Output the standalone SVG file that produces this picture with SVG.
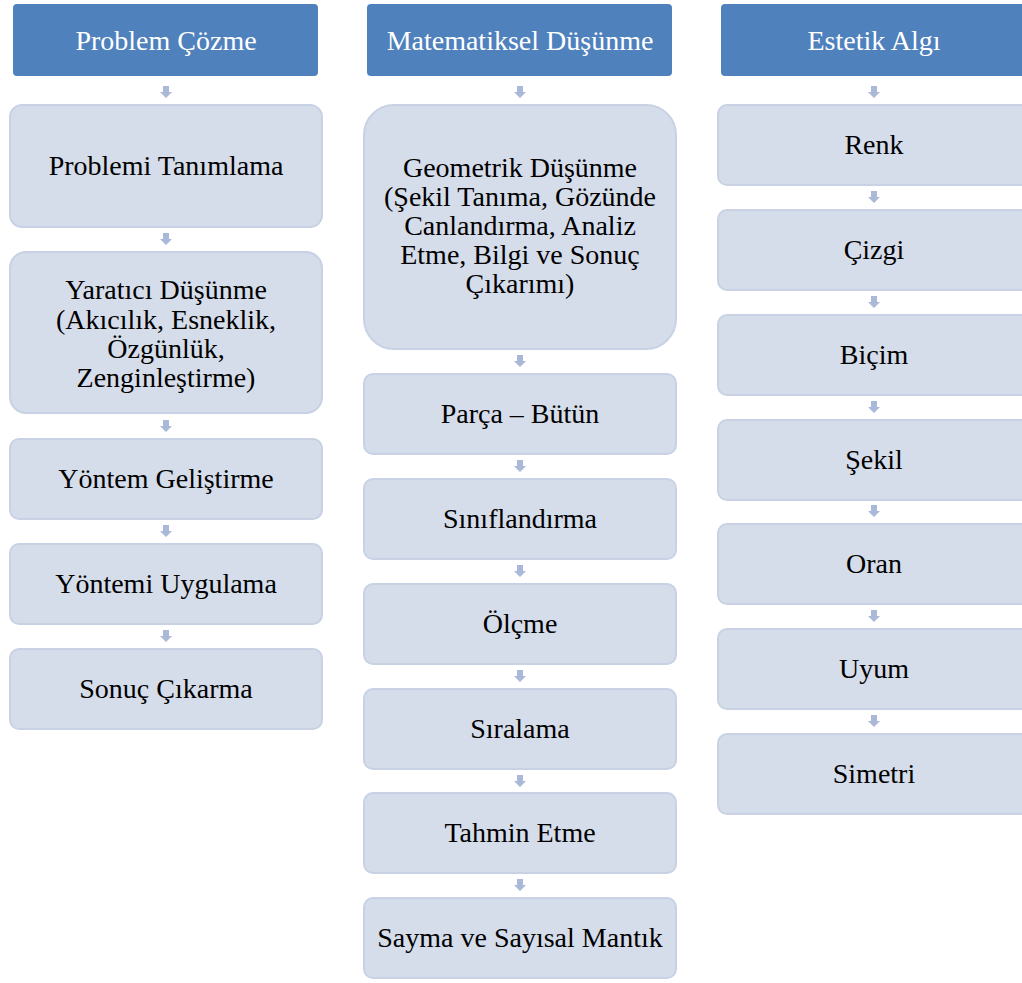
<svg xmlns="http://www.w3.org/2000/svg" width="1022" height="983" viewBox="0 0 1022 983">
<style>
.hdr{fill:#4f81bd;}
.bx{fill:#d5dcea;stroke:#c9d2e4;stroke-width:2;}
.ht{font-family:"Liberation Serif",serif;font-size:28px;fill:#ffffff;text-anchor:middle;}
.t{font-family:"Liberation Serif",serif;font-size:28px;fill:#000000;text-anchor:middle;}
.ar{fill:#a9b9d7;}
</style>
<defs>
<path id="arr" d="M-3,0 H3 V6 H6 L0,12 L-6,6 H-3 Z" class="ar"/>
</defs>
<rect width="1022" height="983" fill="#ffffff"/>
<g id="connectors">
<use href="#arr" x="166" y="86"/>
<use href="#arr" x="166" y="233"/>
<use href="#arr" x="166" y="420"/>
<use href="#arr" x="166" y="525"/>
<use href="#arr" x="166" y="630"/>
<use href="#arr" x="520" y="86"/>
<use href="#arr" x="520" y="355"/>
<use href="#arr" x="520" y="460"/>
<use href="#arr" x="520" y="565"/>
<use href="#arr" x="520" y="670"/>
<use href="#arr" x="520" y="775"/>
<use href="#arr" x="520" y="879"/>
<use href="#arr" x="874" y="86"/>
<use href="#arr" x="874" y="191"/>
<use href="#arr" x="874" y="296"/>
<use href="#arr" x="874" y="401"/>
<use href="#arr" x="874" y="505"/>
<use href="#arr" x="874" y="610"/>
<use href="#arr" x="874" y="715"/>
</g>
<g id="h1"><rect class="hdr" x="13" y="4" width="305" height="72" rx="4"/><text class="ht" x="166" y="50">Problem Çözme</text></g>
<g id="h2"><rect class="hdr" x="367" y="4" width="305" height="72" rx="4"/><text class="ht" x="520" y="50">Matematiksel Düşünme</text></g>
<g id="h3"><rect class="hdr" x="721" y="4" width="310" height="72" rx="4"/><text class="ht" x="874" y="50">Estetik Algı</text></g>

<g id="n1"><rect class="bx" x="10" y="105" width="312" height="122" rx="12"/><text class="t" x="166" y="175">Problemi Tanımlama</text></g>
<g id="n2"><rect class="bx" x="10" y="252" width="312" height="161" rx="16"/><text class="t" x="166" y="299">Yaratıcı Düşünme</text><text class="t" x="166" y="329">(Akıcılık, Esneklik,</text><text class="t" x="166" y="358">Özgünlük,</text><text class="t" x="166" y="387">Zenginleştirme)</text></g>
<g id="n3"><rect class="bx" x="10" y="439" width="312" height="80" rx="9"/><text class="t" x="166" y="488">Yöntem Geliştirme</text></g>
<g id="n4"><rect class="bx" x="10" y="544" width="312" height="80" rx="9"/><text class="t" x="166" y="593">Yöntemi Uygulama</text></g>
<g id="n5"><rect class="bx" x="10" y="649" width="312" height="80" rx="9"/><text class="t" x="166" y="698">Sonuç Çıkarma</text></g>

<g id="m1"><rect class="bx" x="364" y="105" width="312" height="244" rx="30"/><text class="t" x="520" y="177">Geometrik Düşünme</text><text class="t" x="520" y="206">(Şekil Tanıma, Gözünde</text><text class="t" x="520" y="235">Canlandırma, Analiz</text><text class="t" x="520" y="264">Etme, Bilgi ve Sonuç</text><text class="t" x="520" y="293">Çıkarımı)</text></g>
<g id="m2"><rect class="bx" x="364" y="374" width="312" height="80" rx="9"/><text class="t" x="520" y="423">Parça – Bütün</text></g>
<g id="m3"><rect class="bx" x="364" y="479" width="312" height="80" rx="9"/><text class="t" x="520" y="528">Sınıflandırma</text></g>
<g id="m4"><rect class="bx" x="364" y="584" width="312" height="80" rx="9"/><text class="t" x="520" y="633">Ölçme</text></g>
<g id="m5"><rect class="bx" x="364" y="689" width="312" height="80" rx="9"/><text class="t" x="520" y="738">Sıralama</text></g>
<g id="m6"><rect class="bx" x="364" y="793" width="312" height="80" rx="9"/><text class="t" x="520" y="842">Tahmin Etme</text></g>
<g id="m7"><rect class="bx" x="364" y="898" width="312" height="80" rx="9"/><text class="t" x="520" y="947">Sayma ve Sayısal Mantık</text></g>

<g id="e1"><rect class="bx" x="718" y="105" width="314" height="80" rx="9"/><text class="t" x="874" y="154">Renk</text></g>
<g id="e2"><rect class="bx" x="718" y="210" width="314" height="80" rx="9"/><text class="t" x="874" y="259">Çizgi</text></g>
<g id="e3"><rect class="bx" x="718" y="315" width="314" height="80" rx="9"/><text class="t" x="874" y="364">Biçim</text></g>
<g id="e4"><rect class="bx" x="718" y="420" width="314" height="80" rx="9"/><text class="t" x="874" y="469">Şekil</text></g>
<g id="e5"><rect class="bx" x="718" y="524" width="314" height="80" rx="9"/><text class="t" x="874" y="573">Oran</text></g>
<g id="e6"><rect class="bx" x="718" y="629" width="314" height="80" rx="9"/><text class="t" x="874" y="678">Uyum</text></g>
<g id="e7"><rect class="bx" x="718" y="734" width="314" height="80" rx="9"/><text class="t" x="874" y="783">Simetri</text></g>
</svg>
